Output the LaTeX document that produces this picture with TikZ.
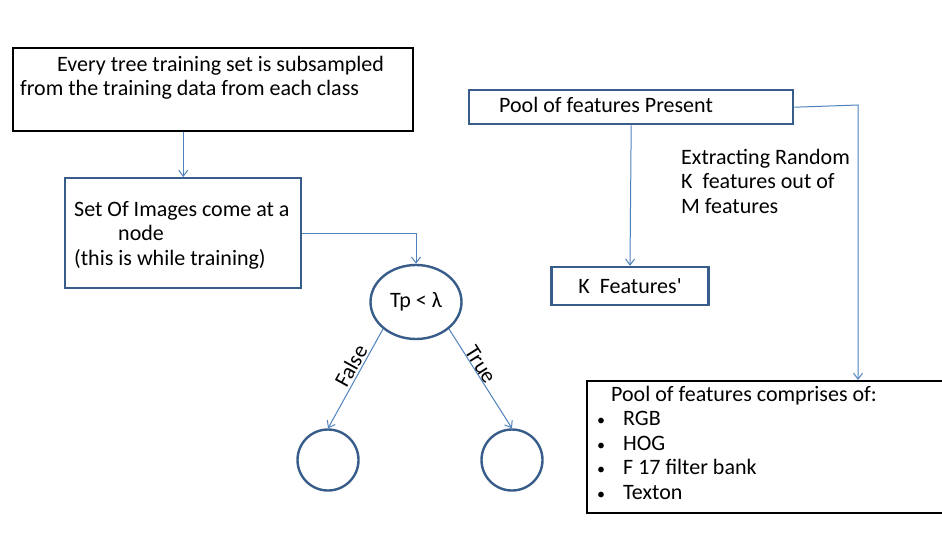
\documentclass[tikz,border=0pt]{standalone}
\usepackage{fontspec}
\setmainfont{Carlito}
\usetikzlibrary{arrows.meta,shapes.geometric}

\definecolor{boxblue}{RGB}{56,93,138}
\definecolor{linkblue}{RGB}{79,129,189}

\newcommand{\bul}{\makebox[26pt][l]{\fontsize{16}{16}\selectfont •}}

\tikzset{
  blackbox/.style={draw=black, line width=2.4pt, rectangle, inner sep=0pt},
  bluebox/.style={draw=boxblue, line width=2.4pt, rectangle, inner sep=0pt},
  bluecirc/.style={draw=boxblue, line width=2.4pt, inner sep=0pt},
  link/.style={draw=linkblue, line width=1pt, -{Straight Barb[length=6pt,width=9pt]}},
  txt/.style={inner sep=0pt, align=left, anchor=north west},
}

\begin{document}
\begin{tikzpicture}[x=1pt, y=-1pt, font=\fontsize{22}{24.5}\selectfont]
                \path[use as bounding box] (0, 0) rectangle (942, 533);
                % left side: training tree
                \node[blackbox, anchor=north west, minimum width=400pt, minimum height=83pt] (subset) at (12, 47) {};
                \node[txt] (subsettxt) at (20, 56) {\hspace*{37pt}Every tree training set is subsampled\\from the training data from each class};
                \node[bluebox, anchor=north west, minimum width=236pt, minimum height=110pt] (images) at (64, 177) {};
                \node[txt] (imagestxt) at (74, 201) {Set Of Images come at a\\\hspace*{44pt}node\\(this is while training)};
                \node[bluecirc, ellipse, minimum width=91pt, minimum height=74pt] (cond) at (416, 302) {Tp < λ};
                \node[bluecirc, circle, minimum size=61pt] (lf) at (328, 460) {};
                \node[bluecirc, circle, minimum size=61pt] (rt) at (512, 460) {};
                \draw[link] (subset.south -| images.north) -- (images.north);
                \draw[link] (images.east) -| (cond.north);
                \draw[link] (cond.south west) -- node[pos=0.42, sloped, above, inner sep=2pt] (falselbl) {False} (lf.north);
                \draw[link] (cond.south east) -- node[pos=0.40, sloped, above, inner sep=0pt] (truelbl) {True} (rt.north);
                % right side: features
                \node[bluebox, anchor=north west, minimum width=324pt, minimum height=34pt] (pool) at (468, 89) {};
                \node[txt] (pooltxt) at (499, 97) {Pool of features Present};
                \node[bluebox, minimum width=157pt, minimum height=38pt] (kfeat) at (630, 286) {K~~Features\textquotesingle};
                \node[txt] (extract) at (681, 149) {Extracting Random\\K~~features out of\\M features};
                \node[blackbox, anchor=north west, minimum width=360pt, minimum height=132pt] (comp) at (586, 380) {};
                \node[txt] (comptxt) at (597, 386) {\hspace*{14pt}Pool of features comprises of:\\
                        \bul RGB\\\bul HOG\\\bul F 17 filter bank\\\bul Texton};
                \coordinate (turn) at (858, 105);
                \draw[link] (pool.south) -- (kfeat.north);
                \draw[link] (pool.east) -- (turn) -- (turn |- comp.north);
        \end{tikzpicture}
\end{document}
